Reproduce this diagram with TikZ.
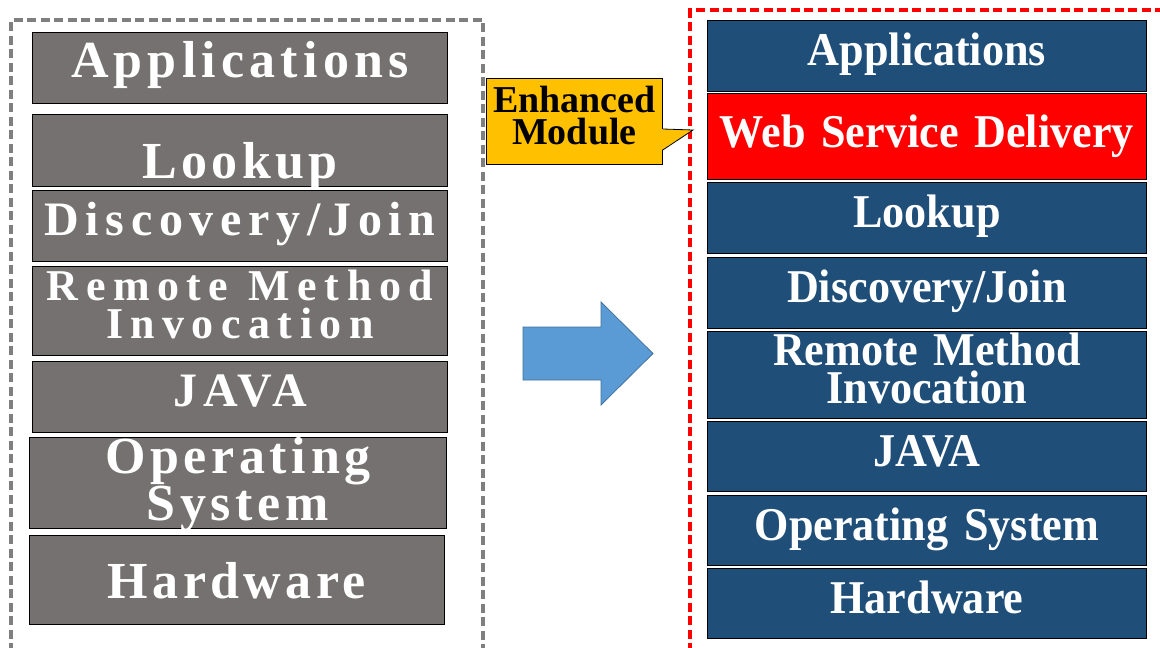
\documentclass[tikz,border=0pt]{standalone}
\usepackage{fontspec}
\setmainfont{Liberation Serif}

\definecolor{oldGray}{HTML}{767171}
\definecolor{layerBlue}{HTML}{1F4E79}
\definecolor{calloutYellow}{HTML}{FFC000}
\definecolor{arrowBlue}{HTML}{5B9BD5}
\definecolor{arrowEdge}{HTML}{41719C}
\definecolor{frameGray}{HTML}{7F7F7F}

\newcommand{\legacyFont}[3]{\fontsize{#1}{#2}\selectfont\bfseries\addfontfeatures{LetterSpace=#3}}
\newcommand{\stackFont}{\fontsize{47}{38}\selectfont\bfseries\addfontfeatures{FakeStretch=0.94}}

\tikzstyle{layer}=[draw=black, line width=0.8pt, text=white, inner sep=0pt, anchor=north west, align=center]
\tikzstyle{oldLayer}=[layer, fill=oldGray, minimum width=415pt, text width=415pt]
\tikzstyle{newLayer}=[layer, fill=layerBlue, minimum width=439pt, text width=439pt, font=\stackFont]
\tikzstyle{single}=[text height=32pt, text depth=12pt]
\tikzstyle{dashedFrame}=[line width=3.5pt, dash pattern=on 9pt off 4.5pt]

\begin{document}
\begin{tikzpicture}[x=1pt, y=-1pt]
	\useasboundingbox (0,0) rectangle (1160,648);

	% Rahmen
	\draw[dashedFrame, draw=frameGray] (11,652) -- (11,20) -- (483,20) -- (483,652);
	\draw[dashedFrame, draw=red] (1164,10) -- (690,10) -- (690,652);

	% Linker Stapel
	\node(lApp) at (32,32) [oldLayer, minimum height=71pt, font=\legacyFont{52}{40}{10}, text height=31pt, text depth=12pt] {Applications};
	\node(lLook) at (32,114) [oldLayer, minimum height=70pt, font=\legacyFont{52}{40}{8.5}, text height=64pt, text depth=8pt] {Lookup};
	\node(lDisc) at (32,190) [oldLayer, minimum height=71pt, font=\legacyFont{48}{40}{14}, text height=30pt, text depth=11pt] {Discovery/Join};
	\node(lRmi) at (32,266) [oldLayer, minimum height=89pt, font=\legacyFont{44}{38}{17}, text height=30pt, text depth=51pt] {Remote\hspace{6pt} Method\\Invocation};
	\node(lJava) at (32,361) [oldLayer, minimum height=71pt, font=\legacyFont{48}{40}{12.5}, text height=30pt, text depth=11pt] {JAVA};
	\node(lOs) at (29,437) [oldLayer, minimum width=417pt, text width=417pt, minimum height=91pt, font=\legacyFont{52}{40}{9}, text height=35pt, text depth=54pt] {Operating\\System};
	\node(lHw) at (29,535) [oldLayer, minimum height=89pt, font=\legacyFont{52}{40}{8.5}, text height=45pt, text depth=8pt] {Hardware};

	% Pfeil
	\fill[arrowBlue, draw=arrowEdge, line width=0.8pt] (523,327) -- (601,327) -- (601,302) -- (653,353.5) -- (601,405) -- (601,380) -- (523,380) -- cycle;

	% Rechter Stapel
	\node(rApp) at (707,20) [newLayer, single, minimum height=71pt] {Applications};
	\node(rWeb) at (707,93) [newLayer, fill=red, minimum height=86pt, text height=33pt, text depth=11pt] {Web Service Delivery};
	\node(rLook) at (707,182) [newLayer, single, minimum height=71pt] {Lookup};
	\node(rDisc) at (707,257) [newLayer, single, minimum height=71pt] {Discovery/Join};
	\node(rRmi) at (707,331) [newLayer, minimum height=87pt, text height=32pt, text depth=51pt] {Remote Method\\Invocation};
	\node(rJava) at (707,421) [newLayer, single, minimum height=70pt] {JAVA};
	\node(rOs) at (707,495) [newLayer, single, minimum height=70pt] {Operating System};
	\node(rHw) at (707,568) [newLayer, single, minimum height=70pt] {Hardware};

	% Hinweis
	\node(enh) at (486,78) [layer, fill=calloutYellow, text=black, minimum width=176pt, minimum height=86pt, text width=176pt, font={\fontsize{38}{32}\selectfont\bfseries}, text height=26pt, text depth=44pt] {Enhanced\\Module};
	\coordinate(tip) at (693,130);
	\fill[calloutYellow] ([xshift=-1pt, yshift=-51pt]enh.north east) -- (tip) -- ([xshift=-1pt, yshift=-72pt]enh.north east) -- cycle;
	\draw[line width=0.8pt] ([yshift=-51pt]enh.north east) -- (tip) -- ([yshift=-72pt]enh.north east);

\end{tikzpicture}
\end{document}
